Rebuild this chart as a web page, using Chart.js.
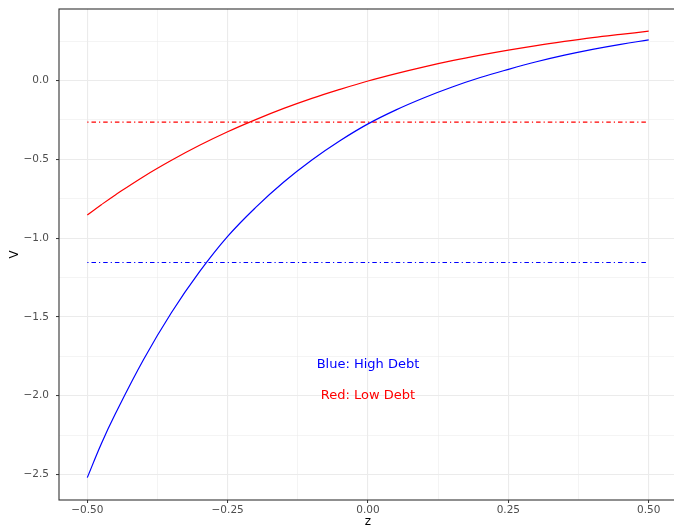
<!DOCTYPE html>
<html>
<head>
<meta charset="utf-8">
<script src="https://cdn.jsdelivr.net/npm/chart.js@4"></script>
<style>
  html, body { margin: 0; padding: 0; background: #fff; overflow: hidden; }
  #wrap { width: 680px; height: 528px; }
</style>
</head>
<body>
<div id="wrap"><canvas id="chart" width="680" height="528"></canvas></div>
<script>
// values
const zValues = [-0.5, -0.475, -0.45, -0.4, -0.35, -0.3, -0.25, -0.2, -0.15, -0.1, -0.05, 0,
                 0.05, 0.1, 0.15, 0.2, 0.25, 0.3, 0.35, 0.4, 0.45, 0.5];
const highDebtV = [-2.52, -2.305, -2.115, -1.772, -1.472, -1.213, -0.989, -0.805, -0.644, -0.504, -0.382, -0.275,
                   -0.186, -0.109, -0.041, 0.019, 0.071, 0.119, 0.161, 0.198, 0.23, 0.258];
const lowDebtV = [-0.853, -0.788, -0.726, -0.61, -0.506, -0.411, -0.325, -0.248, -0.177, -0.113, -0.056, -0.003,
                  0.044, 0.087, 0.126, 0.161, 0.193, 0.222, 0.248, 0.272, 0.293, 0.313];
const refZ = [-0.5, 0.5];
const highDebtRef = [-1.155, -1.155];
const lowDebtRef = [-0.264, -0.264];

const xMajorTicks = [-0.5, -0.25, 0, 0.25, 0.5];
const xMinorTicks = [-0.375, -0.125, 0.125, 0.375];
const yMajorTicks = [-2.5, -2, -1.5, -1, -0.5, 0];
const yMinorTicks = [-2.25, -1.75, -1.25, -0.75, -0.25, 0.25];

const noteText = ["Blue: High Debt", "Red: Low Debt"];
const noteZ = [0, 0];
const noteV = [-1.8, -2.0];
const noteColor = ["#0000ff", "#ff0000"];

function pts(xs, ys) {
    return xs.map((x, i) => ({ x: x, y: ys[i] }));
}

function tickList(major, minor) {
    return major.concat(minor).sort((a, b) => a - b).map(v => ({ value: v }));
}

function fmt(v, d) {
    return v.toFixed(d).replace("-", "\u2212");
}

const TICK_FONT = { family: "DejaVu Sans", size: 10.5 };
const TITLE_FONT = { family: "DejaVu Sans", size: 12, lineHeight: 1 };

// panel border + text notes
const panelPlugin = {
    id: "panel",
    afterDatasetsDraw(chart) {
        const { ctx, chartArea: a, scales } = chart;
        ctx.save();
        ctx.font = "13px 'DejaVu Sans'";
        ctx.textAlign = "center";
        ctx.textBaseline = "middle";
        noteText.forEach((t, i) => {
            ctx.fillStyle = noteColor[i];
            ctx.fillText(t, scales.x.getPixelForValue(noteZ[i]), scales.y.getPixelForValue(noteV[i]));
        });
        ctx.strokeStyle = "#333333";
        ctx.lineWidth = 1.1;
        ctx.strokeRect(a.left, a.top, a.right - a.left, a.bottom - a.top);
        ctx.restore();
    }
};

function gridFor(major) {
    return {
        color: "#ebebeb",
        lineWidth: c => major.includes(c.tick.value) ? 1.1 : 0.55,
        tickColor: c => major.includes(c.tick.value) ? "#333333" : "rgba(0,0,0,0)",
        tickWidth: 1,
        tickLength: 3,
        drawTicks: true
    };
}

new Chart(document.getElementById("chart"), {
    type: "line",
    data: {
        datasets: [
            { label: "High Debt", data: pts(zValues, highDebtV), borderColor: "#0000ff", borderWidth: 1.2,
              pointRadius: 0, tension: 0.4, fill: false },
            { label: "Low Debt", data: pts(zValues, lowDebtV), borderColor: "#ff0000", borderWidth: 1.2,
              pointRadius: 0, tension: 0.4, fill: false },
            { label: "High Debt ref", data: pts(refZ, highDebtRef), borderColor: "#0000ff", borderWidth: 1.1,
              borderDash: [1.2, 3, 4.5, 3], pointRadius: 0, fill: false },
            { label: "Low Debt ref", data: pts(refZ, lowDebtRef), borderColor: "#ff0000", borderWidth: 1.3,
              borderDash: [1.2, 3, 4.5, 3], pointRadius: 0, fill: false }
        ]
    },
    options: {
        responsive: false,
        animation: false,
        layout: { padding: { top: 9, right: 3, left: 0, bottom: 0 } },
        plugins: { legend: { display: false }, tooltip: { enabled: false } },
        scales: {
            x: {
                type: "linear",
                min: -0.5504,
                max: 0.5504,
                afterBuildTicks: s => { s.ticks = tickList(xMajorTicks, xMinorTicks); },
                afterFit: s => { s.height = 28; s.paddingLeft = 0; s.paddingRight = 0; },
                grid: gridFor(xMajorTicks),
                border: { display: false },
                ticks: {
                    autoSkip: false,
                    maxRotation: 0,
                    padding: 1,
                    color: "#4d4d4d",
                    font: TICK_FONT,
                    callback: v => xMajorTicks.includes(v) ? fmt(v, 2) : ""
                },
                title: { display: true, text: "z", color: "#000", font: TITLE_FONT, padding: { top: 0, bottom: 0 } }
            },
            y: {
                type: "linear",
                min: -2.662,
                max: 0.454,
                afterBuildTicks: s => { s.ticks = tickList(yMajorTicks, yMinorTicks); },
                afterFit: s => { s.width = 59; s.paddingTop = 0; s.paddingBottom = 0; },
                grid: gridFor(yMajorTicks),
                border: { display: false },
                ticks: {
                    autoSkip: false,
                    padding: 7,
                    color: "#4d4d4d",
                    font: TICK_FONT,
                    callback: v => yMajorTicks.includes(v) ? fmt(v, 1) : ""
                },
                title: { display: true, text: "V", color: "#000", font: TITLE_FONT, padding: { top: 9, bottom: 0 } }
            }
        }
    },
    plugins: [panelPlugin]
});
</script>
</body>
</html>
